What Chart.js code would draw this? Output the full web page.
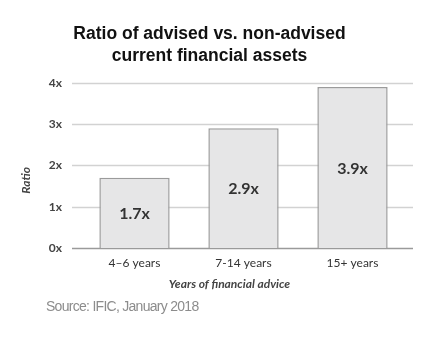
<!DOCTYPE html>
<html><head><meta charset="utf-8">
<script src="https://cdn.jsdelivr.net/npm/chart.js@4"></script>
<style>
html,body{margin:0;padding:0;background:#fff;}
#wrap{position:relative;width:438px;height:339px;}
#src{position:absolute;left:46px;top:298px;font-family:'Liberation Sans',Arial,sans-serif;font-size:14px;color:#8c8c8c;letter-spacing:-0.72px;white-space:nowrap;}
</style>
</head><body>
<div id="wrap"><canvas id="c" width="438" height="339"></canvas><div id="src">Source: IFIC, January 2018</div></div>
<script>
const categories = ['4–6 years', '7-14 years', '15+ years'];
const ratios = [1.7, 2.9, 3.9];
const yTickLabels = ['0x', '1x', '2x', '3x', '4x'];
const titleLines = ['Ratio of advised vs. non-advised', 'current financial assets'];
const yAxisTitle = 'Ratio';
const xAxisTitle = 'Years of financial advice';

// horizontal grid lines reaching a little past the category band
const wideGrid = {
  id: 'wideGrid',
  beforeDatasetsDraw(chart) {
    const ctx = chart.ctx;
    const area = chart.chartArea;
    const ys = chart.scales.y;
    ctx.save();
    ctx.lineWidth = 1.6;
    ys.ticks.forEach(t => {
      const y = Math.round(ys.getPixelForValue(t.value)) + 0.5;
      ctx.strokeStyle = t.value === 0 ? '#9a9a9a' : '#d2d2d2';
      ctx.beginPath();
      ctx.moveTo(area.left - 8, y);
      ctx.lineTo(area.right + 6, y);
      ctx.stroke();
    });
    ctx.restore();
  }
};

const extraText = {
  id: 'extraText',
  afterDatasetsDraw(chart) {
    const ctx = chart.ctx;
    const meta = chart.getDatasetMeta(0);
    const area = chart.chartArea;
    ctx.save();
    ctx.font = 'bold 16px Lato';
    ctx.fillStyle = '#333333';
    ctx.textAlign = 'center';
    ctx.textBaseline = 'middle';
    meta.data.forEach((bar, i) => {
      const p = bar.getProps(['x', 'y', 'base'], true);
      ctx.fillText(ratios[i].toFixed(1) + 'x', p.x, (p.y + p.base) / 2 + 1);
    });
    ctx.font = 'italic bold 12px Lato';
    ctx.fillStyle = '#444444';
    ctx.fillText(xAxisTitle, (area.left + area.right) / 2 - 14, area.bottom + 36);
    ctx.translate(area.left - 54, (area.top + area.bottom) / 2 + 15);
    ctx.rotate(-Math.PI / 2);
    ctx.fillText(yAxisTitle, 0, 0);
    ctx.restore();
  }
};

new Chart(document.getElementById('c'), {
  type: 'bar',
  data: {
    labels: categories,
    datasets: [{
      data: ratios,
      backgroundColor: '#e6e6e7',
      borderColor: '#9b9b9b',
      borderWidth: 1.5,
      categoryPercentage: 1,
      barPercentage: 0.645
    }]
  },
  options: {
    responsive: false,
    animation: false,
    devicePixelRatio: 1,
    layout: { padding: { left: 12, right: 31, top: 0, bottom: 51 } },
    plugins: {
      legend: { display: false },
      tooltip: { enabled: false },
      title: {
        display: true,
        text: titleLines,
        color: '#111111',
        font: { family: "'Liberation Sans', Arial, sans-serif", size: 17.5, weight: 'bold', lineHeight: 1.28 },
        padding: { top: 23, bottom: 15 }
      }
    },
    scales: {
      y: {
        min: 0, max: 4,
        afterFit(s) { s.width = 68; },
        ticks: {
          stepSize: 1,
          padding: 18,
          color: '#444444',
          font: { family: 'Lato', size: 12, weight: 'bold' },
          callback: (v) => yTickLabels[v]
        },
        grid: { display: false, drawTicks: false },
        border: { display: false }
      },
      x: {
        afterFit(s) { s.height = 40; },
        ticks: {
          padding: 8,
          color: '#333333',
          font: { family: 'Lato', size: 12 }
        },
        grid: { display: false, drawTicks: false },
        border: { display: false }
      }
    }
  },
  plugins: [wideGrid, extraText]
});
</script>
</body></html>
